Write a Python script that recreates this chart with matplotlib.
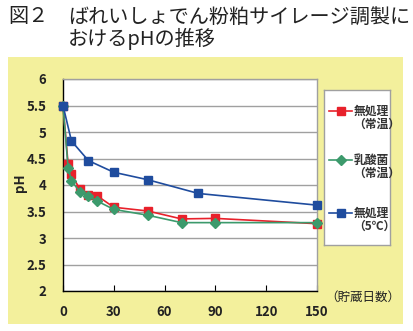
import matplotlib
matplotlib.use("Agg")
import matplotlib.pyplot as plt
from matplotlib.patches import Rectangle

plt.rcParams['font.family'] = ['Noto Sans CJK JP', 'DejaVu Sans']

# data
days_red = [0, 3, 5, 10, 15, 20, 30, 50, 70, 90, 150]
ph_red = [5.5, 4.40, 4.20, 3.92, 3.82, 3.80, 3.58, 3.51, 3.36, 3.37, 3.27]
days_green = [0, 3, 5, 10, 15, 20, 30, 50, 70, 90, 150]
ph_green = [5.5, 4.33, 4.08, 3.87, 3.79, 3.70, 3.54, 3.43, 3.29, 3.29, 3.29]
days_blue = [0, 5, 15, 30, 50, 80, 150]
ph_blue = [5.5, 4.83, 4.46, 4.24, 4.10, 3.84, 3.62]

labels = ["無処理\n（常温）", "乳酸菌\n（常温）", "無処理\n（5℃）"]
xticks = [0, 30, 60, 90, 120, 150]
yticks = [2, 2.5, 3, 3.5, 4, 4.5, 5, 5.5, 6]
yticklabels = ["2", "2.5", "3", "3.5", "4", "4.5", "5", "5.5", "6"]

RED = "#e8212b"
GREEN = "#3c9a6c"
BLUE = "#1f4c9e"
YELLOW = "#f3f09c"
GRID = "#a0a0a0"
TXT = "#222222"

W, H = 413, 331
fig = plt.figure(figsize=(W / 100, H / 100), dpi=100)
fig.patch.set_facecolor("white")

# yellow panel behind the chart
fig.patches.append(Rectangle((8 / W, 1 - 324 / H), 395 / W, 267 / H,
                             transform=fig.transFigure, facecolor=YELLOW,
                             edgecolor="none", zorder=-10))

# title
fig.text(8 / W, 1 - 17 / H, "図２", fontsize=14.5, color=TXT, va="center",
         ha="left")
fig.text(68 / W, 1 - 17 / H, "ばれいしょでん粉粕サイレージ調製に", fontsize=14.5,
         color=TXT, va="center", ha="left")
fig.text(68 / W, 1 - 39 / H, "おけるpHの推移", fontsize=14.5, color=TXT,
         va="center", ha="left")

ax = fig.add_axes([63 / W, 1 - 291 / H, 254 / W, 212 / H])
ax.set_facecolor("white")

series = [
    (days_red, ph_red, RED, "s", 6),
    (days_green, ph_green, GREEN, "D", 5),
    (days_blue, ph_blue, BLUE, "s", 6),
]
for d, v, c, m, ms in series:
    ax.plot(d, v, color=c, lw=1.2, marker=m, markersize=ms,
            markeredgecolor=c, markerfacecolor=c, clip_on=False, zorder=3)

ax.set_xlim(0, 150)
ax.set_ylim(2, 6)
ax.set_xticks(xticks)
ax.set_yticks(yticks)
ax.set_yticklabels(yticklabels)
ax.grid(axis="y", color=GRID, lw=1)
ax.set_axisbelow(True)
for s in ["top", "right"]:
    ax.spines[s].set_color(GRID)
    ax.spines[s].set_linewidth(1)
for s in ["left", "bottom"]:
    ax.spines[s].set_color("black")
    ax.spines[s].set_linewidth(1)
ax.tick_params(axis="x", direction="in", length=4, width=0.8, pad=10,
               labelsize=9.5, labelcolor=TXT)
ax.tick_params(axis="y", length=0, pad=12, labelsize=9.5, labelcolor=TXT)
for lab in ax.get_xticklabels() + ax.get_yticklabels():
    lab.set_fontweight("bold")

fig.text(20 / W, 1 - 183 / H, "pH", rotation=90, fontsize=9.5, fontweight="bold",
         color=TXT, ha="center", va="center")
fig.text(325 / W, 1 - 297 / H, "（貯蔵日数）", fontsize=9, color=TXT,
         ha="left", va="center")

# legend box drawn by hand so the marker sits on the first text line
lax = fig.add_axes([324 / W, 1 - 245 / H, 66 / W, 155 / H])
lax.set_xlim(0, 66)
lax.set_ylim(155, 0)
lax.set_xticks([])
lax.set_yticks([])
lax.set_facecolor("white")
for s in lax.spines.values():
    s.set_color(GRID)
    s.set_linewidth(1)
rows = [21, 70, 123]
for (d, v, c, m, ms), lab, y in zip(series, labels, rows):
    lax.plot([5, 28], [y, y], color=c, lw=1.2)
    lax.plot([16.5], [y], color=c, marker=m, markersize=ms)
    lax.text(29.5, y - 6.5, lab, fontsize=8.5, color="#333333", ha="left",
             va="top", linespacing=1.05, fontweight="bold")

fig.savefig("out.png", dpi=100)
